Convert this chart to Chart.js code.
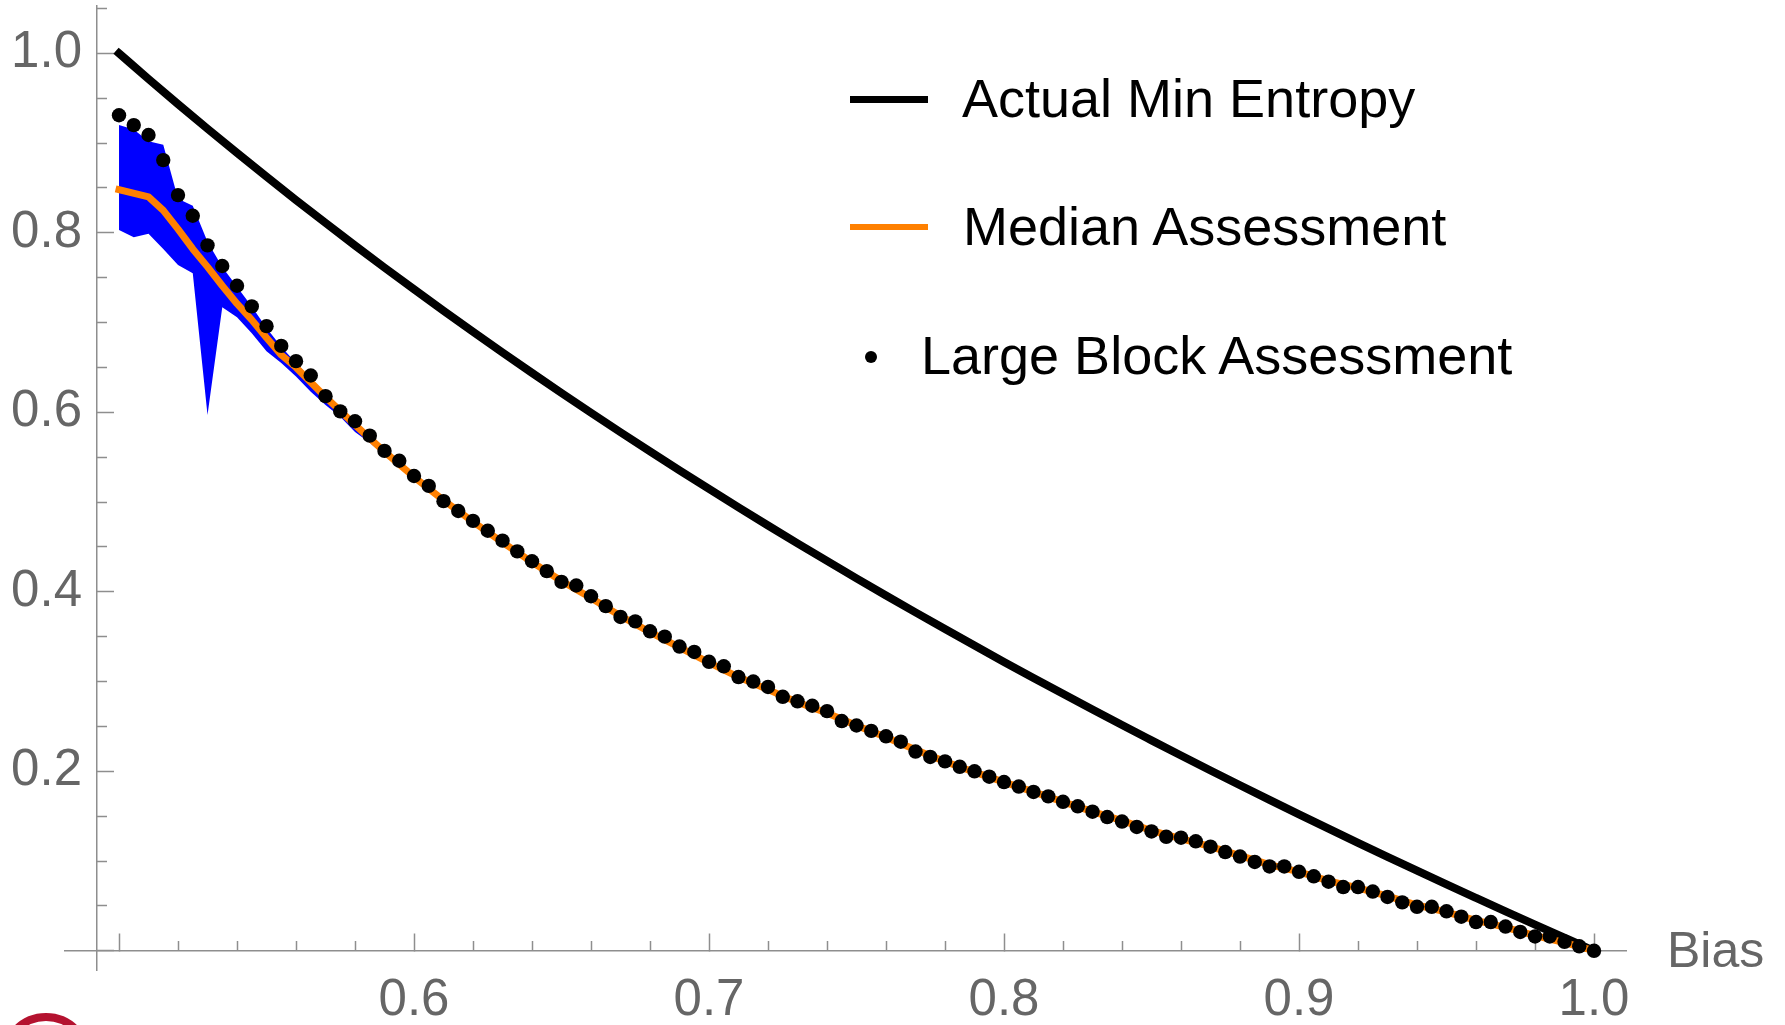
<!DOCTYPE html>
<html>
<head>
<meta charset="utf-8">
<script src="https://cdn.jsdelivr.net/npm/chart.js@4.4.1/dist/chart.umd.min.js"></script>
<style>
html,body{margin:0;padding:0;background:#ffffff;}
#wrap{position:relative;width:1785px;height:1025px;overflow:hidden;background:#fff;}
#wrap canvas{position:absolute;left:0;top:0;}
.legtxt{position:absolute;font-family:'Liberation Sans',Arial,sans-serif;font-size:54px;line-height:54px;color:#000;white-space:nowrap;}
.legline{position:absolute;}
.legdot{position:absolute;width:12px;height:12px;border-radius:50%;background:#000;}
#bias{position:absolute;left:1667px;top:925px;font-family:'Liberation Sans',Arial,sans-serif;font-size:50px;line-height:50px;color:#666666;}
#logo{position:absolute;left:0px;top:1013px;width:92px;height:92px;box-sizing:border-box;border:8px solid #b4122f;border-radius:50%;}
</style>
</head>
<body>
<div id="wrap">
  <canvas id="c" width="1785" height="1025"></canvas>
  <div class="legline" style="left:850px;top:96px;width:78px;height:7px;background:#000;"></div>
  <div class="legtxt" style="left:962px;top:71px;">Actual Min Entropy</div>
  <div class="legline" style="left:850px;top:224px;width:78px;height:6px;background:#ff8000;"></div>
  <div class="legtxt" style="left:963px;top:199px;">Median Assessment</div>
  <div class="legdot" style="left:865px;top:351px;"></div>
  <div class="legtxt" style="left:921px;top:328px;">Large Block Assessment</div>
  <div id="bias">Bias</div>
  <div id="logo"></div>
</div>
<script>
// ---------------- data ----------------
const actualBias = [0.50,0.51,0.52,0.53,0.54,0.55,0.56,0.57,0.58,0.59,0.60,0.61,0.62,0.63,0.64,0.65,0.66,0.67,0.68,0.69,0.70,0.71,0.72,0.73,0.74,0.75,0.76,0.77,0.78,0.79,0.80,0.81,0.82,0.83,0.84,0.85,0.86,0.87,0.88,0.89,0.90,0.91,0.92,0.93,0.94,0.95,0.96,0.97,0.98,0.99,1.00];
const actualMinEntropy = [1.0000,0.9714,0.9434,0.9159,0.8890,0.8625,0.8365,0.8110,0.7859,0.7612,0.7370,0.7131,0.6897,0.6666,0.6439,0.6215,0.5995,0.5778,0.5564,0.5353,0.5146,0.4941,0.4739,0.4540,0.4344,0.4150,0.3959,0.3771,0.3585,0.3401,0.3219,0.3040,0.2863,0.2688,0.2515,0.2345,0.2176,0.2009,0.1844,0.1681,0.1520,0.1361,0.1203,0.1047,0.0893,0.0740,0.0589,0.0439,0.0291,0.0145,0.0000];

const medianBias = [0.500,0.510,0.515,0.520,0.525,0.530,0.535,0.540,0.545,0.550,0.555,0.560,0.57,0.58,0.59,0.60,0.61,0.62,0.63,0.64,0.65,0.66,0.67,0.68,0.69,0.70,0.71,0.72,0.73,0.74,0.75,0.76,0.77,0.78,0.79,0.80,0.81,0.82,0.83,0.84,0.85,0.86,0.87,0.88,0.89,0.90,0.91,0.92,0.93,0.94,0.95,0.96,0.97,0.98,0.99,1.00];
const medianAssessment = [0.848,0.840,0.825,0.804,0.782,0.762,0.741,0.721,0.703,0.683,0.664,0.650,0.617,0.586,0.556,0.528,0.502,0.478,0.455,0.433,0.412,0.393,0.373,0.355,0.338,0.321,0.305,0.291,0.277,0.265,0.251,0.238,0.224,0.211,0.199,0.188,0.177,0.166,0.155,0.145,0.134,0.125,0.116,0.106,0.096,0.088,0.078,0.070,0.061,0.051,0.043,0.034,0.026,0.017,0.009,0.000];

const bandBias  = [0.500,0.505,0.510,0.515,0.520,0.525,0.530,0.535,0.540,0.545,0.550,0.555,0.560,0.565,0.570,0.575,0.580,0.585,0.590,0.595,0.600,0.605,0.610];
const bandUpper = [0.920,0.915,0.902,0.898,0.838,0.830,0.790,0.762,0.740,0.718,0.694,0.673,0.655,0.638,0.616,0.599,0.584,0.571,0.556,0.543,0.530,0.516,0.503];
const bandLower = [0.803,0.795,0.799,0.782,0.764,0.755,0.597,0.717,0.706,0.688,0.668,0.655,0.640,0.623,0.608,0.595,0.578,0.566,0.552,0.541,0.526,0.514,0.501];

const largeBlockBias = [0.500,0.505,0.510,0.515,0.520,0.525,0.530,0.535,0.540,0.545,0.550,0.555,0.560,0.565,0.570,0.575,0.580,0.585,0.590,0.595,
  0.600,0.605,0.610,0.615,0.620,0.625,0.630,0.635,0.640,0.645,0.650,0.655,0.660,0.665,0.670,0.675,0.680,0.685,0.690,0.695,
  0.700,0.705,0.710,0.715,0.720,0.725,0.730,0.735,0.740,0.745,0.750,0.755,0.760,0.765,0.770,0.775,0.780,0.785,0.790,0.795,
  0.800,0.805,0.810,0.815,0.820,0.825,0.830,0.835,0.840,0.845,0.850,0.855,0.860,0.865,0.870,0.875,0.880,0.885,0.890,0.895,
  0.900,0.905,0.910,0.915,0.920,0.925,0.930,0.935,0.940,0.945,0.950,0.955,0.960,0.965,0.970,0.975,0.980,0.985,0.990,0.995,1.000];
const largeBlockAssessment = [0.931,0.920,0.909,0.881,0.842,0.819,0.786,0.763,0.741,0.718,0.696,0.674,0.657,0.641,0.618,0.601,0.590,0.574,0.557,0.546,
  0.529,0.518,0.501,0.490,0.479,0.468,0.457,0.445,0.434,0.423,0.411,0.407,0.395,0.384,0.372,0.367,0.356,0.350,0.339,0.333,
  0.322,0.317,0.305,0.300,0.294,0.283,0.278,0.273,0.267,0.256,0.251,0.245,0.239,0.233,0.222,0.216,0.211,0.205,0.200,0.194,
  0.188,0.183,0.177,0.172,0.166,0.161,0.155,0.149,0.144,0.138,0.133,0.127,0.126,0.122,0.116,0.110,0.105,0.099,0.094,0.094,
  0.088,0.083,0.077,0.071,0.071,0.066,0.060,0.054,0.049,0.049,0.044,0.038,0.032,0.032,0.027,0.021,0.016,0.016,0.010,0.005,0.000];

// ---------------- ticks ----------------
const xMajorTicks = [0.5,0.6,0.7,0.8,0.9,1.0];
const xTickLabels = ['','0.6','0.7','0.8','0.9','1.0'];
const xMinorTicks = [0.52,0.54,0.56,0.58,0.62,0.64,0.66,0.68,0.72,0.74,0.76,0.78,0.82,0.84,0.86,0.88,0.92,0.94,0.96,0.98];
const yMajorTicks = [0,0.2,0.4,0.6,0.8,1.0];
const yLabelTicks = [0.2,0.4,0.6,0.8,1.0];
const yTickLabels = ['0.2','0.4','0.6','0.8','1.0'];
const yMinorTicks = [0.05,0.1,0.15,0.25,0.3,0.35,0.45,0.5,0.55,0.65,0.7,0.75,0.85,0.9,0.95,1.05];

// ---------------- layout constants ----------------
const X_MIN = 0.48169, X_MAX = 1.01108;
const Y_MIN = -0.0214, Y_MAX = 1.0527;
const Y_AXIS_AT = 0.49244;   // x value where the vertical axis crosses
const Y_LABELS_AT = 0.48745; // x value where the y tick labels end
const AXIS_COLOR = '#8e8e8e';
const LABEL_COLOR = '#666666';
const FONT = "'Liberation Sans', Arial, sans-serif";

const pts = (xs, ys) => xs.map((x, i) => ({x: x, y: ys[i]}));
const fixedTicks = (values) => (scale) => { scale.ticks = values.map(v => ({value: v})); };

const baseX = {type: 'linear', axis: 'x', min: X_MIN, max: X_MAX, position: {y: 0}};
const baseY = {type: 'linear', axis: 'y', min: Y_MIN, max: Y_MAX, position: {x: Y_AXIS_AT}};

new Chart(document.getElementById('c'), {
  type: 'scatter',
  data: {
    datasets: [
      {label: 'Band upper', data: pts(bandBias, bandUpper), showLine: true, fill: '+1',
       backgroundColor: '#0000ff', borderColor: 'rgba(0,0,0,0)', borderWidth: 0, pointRadius: 0, tension: 0, order: 4},
      {label: 'Band lower', data: pts(bandBias, bandLower), showLine: true, fill: false,
       borderColor: 'rgba(0,0,0,0)', borderWidth: 0, pointRadius: 0, tension: 0, order: 3},
      {label: 'Actual Min Entropy', data: pts(actualBias, actualMinEntropy), showLine: true,
       borderColor: '#000000', borderWidth: 8, borderCapStyle: 'square', cubicInterpolationMode: 'monotone',
       pointRadius: 0, order: 2},
      {label: 'Median Assessment', data: pts(medianBias, medianAssessment), showLine: true,
       borderColor: '#ff8000', borderWidth: 7, borderCapStyle: 'square', borderJoinStyle: 'round', pointRadius: 0, tension: 0, order: 1},
      {label: 'Large Block Assessment', data: pts(largeBlockBias, largeBlockAssessment), showLine: false,
       backgroundColor: '#000000', borderWidth: 0, pointRadius: 7.2, pointHoverRadius: 7.2, order: 0}
    ]
  },
  options: {
    responsive: false,
    animation: false,
    events: [],
    layout: {autoPadding: false, padding: {left: 65, right: 158.3, top: 6, bottom: 55}},
    plugins: {legend: {display: false}, tooltip: {enabled: false}, title: {display: false}},
    scales: {
      x: Object.assign({}, baseX, {
        afterBuildTicks: fixedTicks(xMajorTicks),
        border: {display: true, color: AXIS_COLOR, width: 1.5},
        grid: {drawOnChartArea: false, drawTicks: true, tickLength: -18, tickColor: AXIS_COLOR, tickWidth: 1.5, color: AXIS_COLOR},
        ticks: {display: true, autoSkip: false, maxRotation: 0, minRotation: 0, padding: 38, color: LABEL_COLOR,
                font: {family: FONT, size: 51},
                callback: (v, i) => xTickLabels[i]}
      }),
      xMinor: Object.assign({}, baseX, {
        afterBuildTicks: fixedTicks(xMinorTicks),
        border: {display: false},
        grid: {drawOnChartArea: false, drawTicks: true, tickLength: -10, tickColor: AXIS_COLOR, tickWidth: 1.5, color: AXIS_COLOR},
        ticks: {display: false}
      }),
      y: Object.assign({}, baseY, {
        afterBuildTicks: fixedTicks(yMajorTicks),
        border: {display: true, color: AXIS_COLOR, width: 1.5},
        grid: {drawOnChartArea: false, drawTicks: true, tickLength: -18, tickColor: AXIS_COLOR, tickWidth: 1.5, color: AXIS_COLOR},
        ticks: {display: false}
      }),
      yMinor: Object.assign({}, baseY, {
        afterBuildTicks: fixedTicks(yMinorTicks),
        border: {display: false},
        grid: {drawOnChartArea: false, drawTicks: true, tickLength: -10, tickColor: AXIS_COLOR, tickWidth: 1.5, color: AXIS_COLOR},
        ticks: {display: false}
      }),
      yLabels: Object.assign({}, baseY, {
        position: {x: Y_LABELS_AT},
        afterBuildTicks: fixedTicks(yLabelTicks),
        border: {display: false},
        grid: {display: false, drawTicks: false},
        ticks: {display: true, autoSkip: false, padding: 0, color: LABEL_COLOR,
                font: {family: FONT, size: 51, lineHeight: 0.1},
                callback: (v, i) => yTickLabels[i]}
      })
    }
  }
});
</script>
</body>
</html>
